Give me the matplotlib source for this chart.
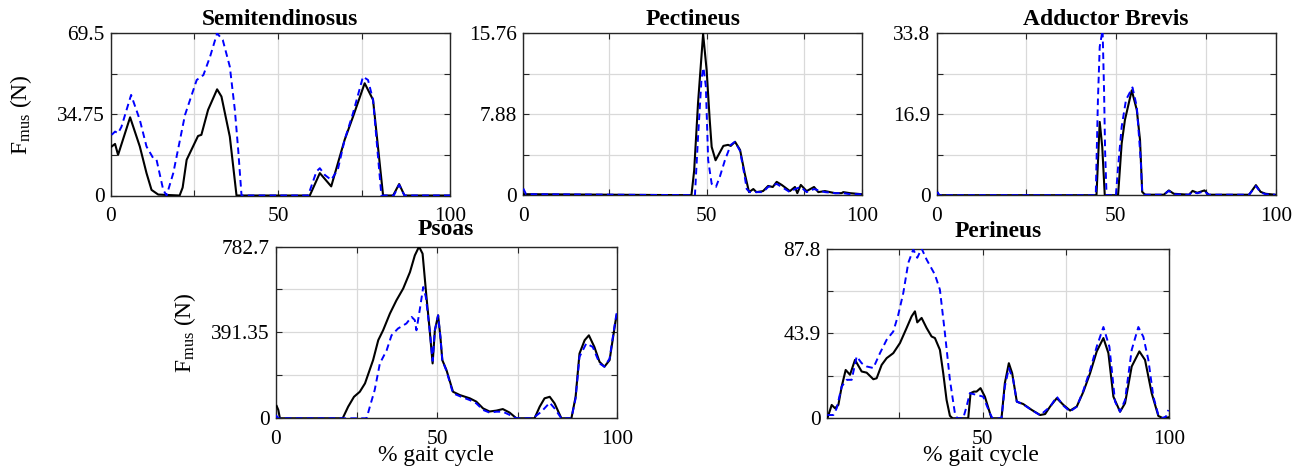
import numpy as np
import matplotlib
matplotlib.use("Agg")
import matplotlib.pyplot as plt

plt.rcParams['font.family'] = ['Liberation Serif', 'DejaVu Serif']
plt.rcParams['mathtext.fontset'] = 'custom'
plt.rcParams['mathtext.rm'] = 'Liberation Serif'
plt.rcParams['mathtext.it'] = 'Liberation Serif:italic'
plt.rcParams['mathtext.bf'] = 'Liberation Serif:bold'

# ---------------- data ----------------
titles = ["Semitendinosus", "Pectineus", "Adductor Brevis", "Psoas", "Perineus"]
ymax_vals = [69.5, 15.76, 33.8, 782.7, 87.8]
ytick_labels = [["0", "", "34.75", "", "69.5"],
                ["0", "", "7.88", "", "15.76"],
                ["0", "", "16.9", "", "33.8"],
                ["0", "", "391.35", "", "782.7"],
                ["0", "", "43.9", "", "87.8"]]
xtick_labels = ["0", "", "50", "", "100"]
xtick_labels_perineus = ["", "50", "", "100"]

# Semitendinosus
semi_x_k = [0.3, 1.3, 2.2, 5.8, 8.7, 10.7, 12.2, 14.2, 20.6, 21.5, 22.7, 26.1, 27.1, 29.1, 31.8, 33.1,
            35.6, 37.6, 59.5, 62.5, 65.9, 69.9, 72.4, 75.9, 78.4, 81.4, 84.4, 86.2, 87.8, 101.4]
semi_y_k = [21.0, 22.1, 17.4, 33.5, 21.0, 9.6, 2.4, 0.4, 0.0, 3.4, 15.3, 25.5, 26.0, 36.7, 45.5, 42.4,
            25.2, 0.0, 0.0, 9.6, 3.9, 23.8, 33.7, 48.1, 41.0, 0.0, 0.0, 4.9, 0.0, 0.0]
semi_x_b = [0.3, 1.3, 2.2, 3.2, 6.1, 8.7, 10.7, 12.7, 13.7, 15.7, 16.7, 18.7, 20.7, 22.2, 25.7, 27.7,
            29.7, 31.8, 33.5, 35.6, 37.1, 38.1, 39.1, 59.0, 61.5, 62.5, 64.0, 65.9, 67.9, 69.9, 72.4,
            75.4, 76.9, 78.4, 80.9, 84.6, 86.2, 87.8, 101.4]
semi_y_b = [26.0, 27.4, 26.7, 29.4, 43.1, 32.4, 21.0, 16.0, 15.3, 2.4, 0.0, 9.6, 23.8, 34.5, 49.5, 51.6,
            59.5, 69.5, 66.6, 55.2, 36.7, 19.6, 0.0, 0.0, 10.3, 11.7, 8.8, 6.7, 11.2, 23.8, 35.2,
            50.9, 49.5, 41.0, 0.0, 0.0, 4.6, 0.0, 0.0]

# Pectineus
pect_x_k = [2.9, 46.1, 46.8, 47.8, 49.1, 50.0, 50.8, 51.3, 52.3, 54.3, 55.5, 56.2, 57.3, 58.6, 59.8,
            60.9, 62.0, 62.8, 64.5, 65.8, 67.0, 68.0, 69.3, 71.4, 72.7, 73.3, 74.2, 75.7, 77.6, 78.7,
            80.4, 83.0, 84.7, 85.1, 86.8, 89.8]
pect_y_k = [0.1, 0.0, 2.4, 9.0, 15.7, 12.2, 7.3, 4.7, 3.4, 4.8, 4.9, 4.8, 5.2, 4.4, 2.1,
            0.3, 0.6, 0.3, 0.4, 0.9, 0.8, 1.3, 1.0, 0.4, 0.8, 0.2, 1.0, 0.4, 0.8, 0.3,
            0.4, 0.2, 0.2, 0.3, 0.2, 0.1]
pect_x_b = [2.9, 3.6, 47.0, 47.8, 48.7, 49.2, 49.8, 50.4, 51.3, 52.4, 53.4, 54.7, 56.2, 57.3, 58.6,
            59.8, 60.3, 61.1, 62.8, 64.5, 65.8, 68.0, 69.3, 71.4, 72.7, 74.2, 75.7, 77.6, 80.4, 83.0,
            85.1, 86.8, 89.8]
pect_y_b = [0.65, 0.1, 0.0, 5.7, 11.4, 12.4, 10.6, 3.4, 1.1, 0.8, 1.8, 3.4, 4.9, 5.2, 4.3,
            1.8, 0.6, 0.3, 0.3, 0.3, 0.8, 1.1, 0.8, 0.3, 0.6, 0.8, 0.3, 0.6, 0.3, 0.2,
            0.2, 0.1, 0.1]

# Adductor Brevis
addb_x_k = [0.4, 0.9, 44.6, 45.5, 46.2, 46.9, 50.6, 51.6, 52.5, 54.4, 55.8, 56.7, 57.3, 58.1, 63.3,
            64.7, 66.1, 70.3, 71.3, 72.6, 74.6, 75.8, 87.0, 88.9, 90.2, 91.6, 94.3]
addb_y_k = [0.5, 0.0, 0.0, 15.3, 10.1, 0.0, 0.0, 10.8, 15.7, 21.9, 17.8, 11.5, 0.7, 0.1, 0.1,
            1.0, 0.3, 0.1, 0.9, 0.5, 1.0, 0.1, 0.1, 2.1, 0.7, 0.3, 0.1]
addb_x_b = [0.4, 0.9, 44.4, 45.0, 45.5, 46.3, 46.7, 47.0, 47.4, 50.0, 50.6, 51.6, 52.8, 54.6, 55.8,
            56.9, 57.3, 58.1, 63.3, 64.7, 66.1, 70.3, 71.3, 72.6, 74.6, 75.8, 87.0, 88.9, 90.2, 91.6, 94.3]
addb_y_b = [0.7, 0.0, 0.0, 19.9, 31.0, 34.5, 22.0, 9.0, 0.0, 0.0, 5.9, 14.3, 19.9, 22.5, 18.5,
            7.3, 0.7, 0.1, 0.1, 0.9, 0.2, 0.1, 0.7, 0.4, 0.8, 0.1, 0.1, 1.9, 0.6, 0.2, 0.1]

# Psoas
psoas_x_k = [0.3, 0.8, 1.3, 20.7, 22.4, 24.2, 26.0, 27.6, 30.1, 31.7, 33.2, 35.3, 37.3, 39.4, 41.5,
             43.0, 44.3, 45.4, 46.6, 47.6, 48.5, 49.2, 50.2, 50.9, 51.5, 52.8, 54.8, 56.9, 60.0,
             62.0, 64.1, 66.1, 68.2, 70.2, 72.3, 74.4, 80.0, 81.6, 83.1, 84.7, 86.2, 88.3, 91.4,
             92.7, 93.9, 95.5, 96.8, 98.5, 100.1, 101.6, 103.2, 105.0, 105.4]
psoas_y_k = [56, 38, 0, 0, 53, 98, 121, 159, 265, 356, 401, 477, 537, 591, 666,
             742, 782, 750, 553, 401, 250, 401, 469, 371, 265, 219, 121, 106, 91,
             76, 45, 31, 35, 42, 26, 0, 0, 53, 91, 98, 68, 0, 0,
             98, 295, 356, 378, 325, 257, 235, 265, 439, 470]
psoas_x_b = [0.0, 0.8, 28.1, 29.1, 30.6, 32.2, 34.3, 35.8, 37.8, 40.4, 42.0, 43.0, 43.5, 44.5, 45.6,
             46.4, 47.6, 48.5, 49.2, 50.2, 50.9, 51.5, 52.8, 54.8, 57.0, 60.0, 62.0, 64.1, 66.1,
             68.2, 70.2, 73.4, 74.4, 79.5, 82.1, 84.7, 86.2, 88.3, 91.4, 92.7, 93.9, 96.0, 98.0,
             100.1, 101.6, 103.2, 105.0, 105.4]
psoas_y_b = [15, 0, 0, 53, 129, 250, 310, 378, 409, 432, 462, 447, 401, 492, 598,
             553, 401, 262, 401, 469, 371, 265, 215, 114, 100, 83, 68, 38, 26,
             30, 30, 8, 0, 0, 30, 71, 45, 0, 0, 91, 280, 341, 325,
             250, 235, 272, 447, 480]

# Perineus
peri_x_k = [3.4, 4.7, 5.7, 6.7, 7.7, 8.9, 10.2, 11.7, 13.7, 15.2, 17.2, 18.2, 19.7, 21.2, 23.2, 25.2,
            27.2, 28.7, 29.7, 30.4, 31.7, 33.2, 34.7, 35.7, 37.2, 38.2, 39.2, 40.2, 41.0, 45.7, 46.4,
            47.4, 48.2, 49.4, 50.7, 52.7, 55.7, 56.7, 57.9, 58.9, 60.3, 62.2, 64.8, 67.3, 68.8, 70.3,
            72.3, 74.3, 76.3, 78.3, 80.3, 82.3, 84.3, 86.3, 87.8, 89.3, 91.3, 92.8, 94.8, 97.1,
            98.8, 100.8, 102.8, 104.3, 105.8]
peri_y_k = [0.0, 6.9, 5.2, 6.9, 16.4, 25.0, 22.5, 30.2, 24.2, 23.6, 20.2, 20.7, 27.6, 31.1, 33.7, 38.9,
            46.7, 52.7, 55.3, 49.6, 51.9, 46.7, 42.3, 41.5, 35.4, 23.3, 9.5, 1.3, 0.0, 0.0, 13.0,
            13.8, 13.8, 15.6, 11.2, 0.0, 0.0, 18.2, 28.5, 23.3, 8.6, 7.4, 4.3, 1.7, 2.2, 6.1,
            10.4, 6.9, 4.0, 6.1, 13.8, 23.3, 34.6, 41.5, 33.7, 11.2, 3.4, 7.8, 26.8, 34.6,
            30.2, 13.0, 1.2, 0.0, 0.5]
peri_x_b = [3.4, 5.2, 6.2, 7.7, 9.2, 10.7, 12.2, 13.7, 15.2, 17.2, 19.2, 21.2, 23.2, 24.7, 26.2, 27.7,
            29.2, 30.4, 31.7, 33.2, 35.7, 37.2, 38.7, 40.2, 41.7, 42.4, 44.2, 45.2, 46.2, 48.2, 50.2,
            52.2, 53.0, 55.7, 56.7, 57.9, 59.2, 60.3, 62.2, 64.8, 67.3, 70.3, 72.3, 74.3, 76.3, 78.3,
            80.3, 82.3, 84.3, 86.3, 88.1, 89.8, 91.3, 92.8, 94.8, 96.8, 98.3, 99.8, 101.3, 102.8,
            103.8, 105.1, 105.8]
peri_y_b = [1.7, 1.7, 5.2, 16.4, 19.9, 19.9, 32.0, 28.5, 26.8, 26.0, 33.7, 40.6, 44.9, 53.6, 64.8, 80.4,
            87.3, 83.0, 87.8, 82.1, 74.3, 66.5, 44.1, 19.9, 2.6, 0.0, 0.0, 6.1, 13.0, 12.1, 11.2,
            2.6, 0.0, 0.0, 16.4, 25.9, 20.0, 8.6, 7.2, 4.2, 1.6, 6.0, 11.2, 6.5, 3.5, 6.0,
            14.5, 25.0, 37.1, 47.2, 37.0, 8.6, 3.4, 9.5, 35.4, 47.2, 42.1, 30.2, 11.2, 1.7,
            0.0, 0.9, 4.3]

xlims = [(0.0, 101.4), (2.9, 90.0), (0.2, 94.4), (0.0, 105.4), (3.2, 106.0)]

series = [(semi_x_k, semi_y_k, semi_x_b, semi_y_b),
          (pect_x_k, pect_y_k, pect_x_b, pect_y_b),
          (addb_x_k, addb_y_k, addb_x_b, addb_y_b),
          (psoas_x_k, psoas_y_k, psoas_x_b, psoas_y_b),
          (peri_x_k, peri_y_k, peri_x_b, peri_y_b)]

# ---------------- layout ----------------
W, H = 1306, 467
fig = plt.figure(figsize=(W / 100, H / 100), dpi=100)

def rect(l, t, r, b):
    return [l / W, 1 - b / H, (r - l) / W, (b - t) / H]

rects = [rect(110.7, 33.3, 450.0, 195.5),
         rect(523.3, 33.3, 862.3, 195.2),
         rect(936.7, 33.3, 1275.7, 195.2),
         rect(275.7, 246.5, 616.7, 418.3),
         rect(826.7, 248.5, 1169.0, 418.3)]

TICK_FS = 15.4
LABEL_FS = 16.9
ylabel_txt = r'F$_{\mathrm{mus}}$ (N)'
frame_col = '#262626'

for i, (title, ymax, ylabs, (xk, yk, xb, yb), xl, rc) in enumerate(
        zip(titles, ymax_vals, ytick_labels, series, xlims, rects)):
    ax = fig.add_axes(rc)
    ax.plot(xk, yk, color='black', lw=1.5, solid_joinstyle='round', zorder=3)
    ax.plot(xb, yb, color=(0, 0, 1), lw=1.4, linestyle=(0, (3.4, 2.2)), zorder=4)
    ax.set_xlim(*xl)
    ax.set_ylim(0, ymax)
    if i == 4:
        ax.set_xticks([25, 50, 75, xl[1]])
        ax.set_xticklabels(xtick_labels_perineus)
    else:
        ax.set_xticks([xl[0], 25, 50, 75, xl[1]])
        ax.set_xticklabels(xtick_labels)
    ax.set_yticks([0, ymax / 4, ymax / 2, 3 * ymax / 4, ymax])
    ax.set_yticklabels(ylabs)
    ax.grid(True, color='#d9d9d9', lw=0.9)
    ax.set_axisbelow(True)
    ax.tick_params(direction='in', length=4.5, width=0.8, color=frame_col,
                   top=True, right=True, labelsize=TICK_FS, pad=4.5)
    ax.tick_params(axis='x', pad=8.5)
    for sp in ax.spines.values():
        sp.set_color(frame_col)
        sp.set_linewidth(1.0)
    ax.set_title(title, fontsize=LABEL_FS, fontweight='bold', pad=6 if i < 3 else 8)
    if i in (0, 3):
        ax.set_ylabel(ylabel_txt, fontsize=LABEL_FS)
        ax.yaxis.set_label_coords(-0.226 if i == 0 else -0.228, 0.5)
    if i in (3, 4):
        ax.set_xlabel('% gait cycle', fontsize=LABEL_FS)
        ax.xaxis.set_label_coords(0.4695 if i == 3 else 0.45, -0.158)

fig.savefig('out.png', dpi=100)
